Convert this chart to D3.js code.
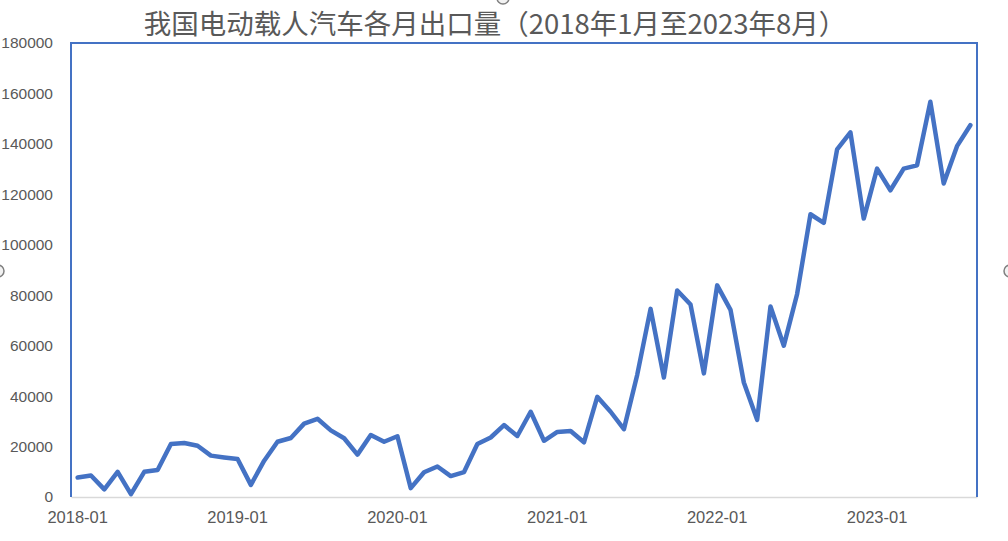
<!DOCTYPE html>
<html><head><meta charset="utf-8">
<script src="https://cdn.jsdelivr.net/npm/d3@7/dist/d3.min.js"></script>
<style>body{margin:0;background:#fff;}svg{display:block;}</style>
</head><body>
<svg id="chart" width="1008" height="541"></svg>
<script>
const title = "我国电动载人汽车各月出口量（2018年1月至2023年8月）";
const months = [];
for (let y = 2018; y <= 2023; y++) for (let m = 1; m <= 12; m++) { if (y === 2023 && m > 8) break; months.push(y + "-" + String(m).padStart(2, "0")); }
const values2018 = [7700, 8500, 3000, 10000, 1100, 10000, 10700, 21000, 21400, 20300, 16400, 15700];
const values2019 = [15100, 4800, 14400, 21900, 23400, 29100, 31000, 26400, 23300, 16800, 24600, 21900];
const values2020 = [24100, 3500, 9800, 12100, 8300, 9900, 21000, 23600, 28500, 24200, 33800, 22300];
const values2021 = [25800, 26200, 21700, 39700, 33800, 26900, 48500, 74600, 47400, 81900, 76300, 49000];
const values2022 = [83900, 74200, 45400, 30600, 75500, 60000, 80500, 112100, 108700, 137800, 144600, 110400];
const values2023 = [130200, 121600, 130200, 131500, 156700, 124300, 139100, 147400];
const values = [].concat(values2018, values2019, values2020, values2021, values2022, values2023);
const xTickLabels = ["2018-01", "2019-01", "2020-01", "2021-01", "2022-01", "2023-01"];
const yTicks = [0, 20000, 40000, 60000, 80000, 100000, 120000, 140000, 160000, 180000];

const svg = d3.select("#chart");
const L = 71, R = 977, T = 43, B = 497;
const x = d3.scaleBand().domain(months).range([L, R]);
const y = d3.scaleLinear().domain([0, 180000]).range([B, T]);
const textColor = "#595959";
const blue = "#4472C4";

// title
svg.append("text").attr("x", 495).attr("y", 34).attr("text-anchor", "middle")
  .attr("font-family", "'Noto Sans CJK SC', sans-serif").attr("font-size", 27.5)
  .attr("fill", textColor).text(title);

// y axis labels
const yAxis = d3.axisLeft(y).tickValues(yTicks).tickSize(0).tickPadding(18).tickFormat(d3.format("d"));
const gy = svg.append("g").attr("transform", `translate(${L},0)`).call(yAxis);
gy.select(".domain").remove();
gy.selectAll("text").attr("font-family", "'Liberation Sans', Arial, sans-serif").attr("font-size", 15.5).attr("fill", textColor);

// x axis
const xAxis = d3.axisBottom(x).tickValues(xTickLabels).tickSize(0).tickPadding(14);
const gx = svg.append("g").attr("transform", `translate(0,${B})`).call(xAxis);
gx.select(".domain").attr("stroke", "#d9d9d9").attr("stroke-width", 1.5);
gx.selectAll("text").attr("font-family", "'Liberation Sans', Arial, sans-serif").attr("font-size", 16.5).attr("fill", textColor);

// plot border (left, top, right) in blue
svg.append("path").attr("d", `M${L},${B} L${L},${T} L${R},${T} L${R},${B}`)
  .attr("fill", "none").attr("stroke", blue).attr("stroke-width", 2);

// line
const line = d3.line().x((d, i) => x(months[i]) + x.bandwidth() / 2).y(d => y(d));
svg.append("path").datum(values).attr("d", line).attr("fill", "none")
  .attr("stroke", blue).attr("stroke-width", 4.5).attr("stroke-linejoin", "round").attr("stroke-linecap", "round");

// selection handles
[[503, -2], [-2, 271], [1010, 271]].forEach(p => {
  svg.append("circle").attr("cx", p[0]).attr("cy", p[1]).attr("r", 6)
    .attr("fill", "#f2f2f2").attr("stroke", "#7f7f7f").attr("stroke-width", 1.5);
});
</script>
</body></html>
